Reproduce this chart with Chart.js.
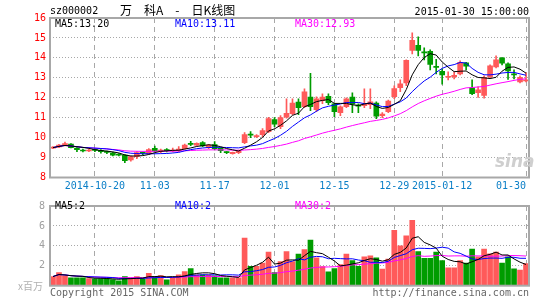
<!DOCTYPE html>
<html>
<head>
<meta charset="utf-8">
<script src="https://cdn.jsdelivr.net/npm/chart.js@4.4.0/dist/chart.umd.min.js"></script>
<style>
  body { margin: 0; width: 545px; height: 300px; background: #fff; position: relative; overflow: hidden; }
  canvas { position: absolute; left: 0; }
  #kChart { top: 0; }
  #volChart { top: 195px; }
  .txt { position: absolute; font: 10px "DejaVu Sans Mono", monospace; line-height: 12px; white-space: pre; }
</style>
</head>
<body>
<canvas id="kChart" width="545" height="195"></canvas>
<canvas id="volChart" width="545" height="105"></canvas>

<div class="txt" style="left:50px;top:5px;">sz000002</div>
<div class="txt" style="left:120px;top:3px;font:12px 'Noto Sans CJK SC';line-height:14px;">万　科A　-　日K线图</div>
<div class="txt" style="right:16px;top:6px;">2015-01-30 15:00:00</div>

<div class="txt" style="left:55px;top:18px;color:#000;">MA5:13.20</div>
<div class="txt" style="left:175px;top:18px;color:#0000ff;">MA10:13.11</div>
<div class="txt" style="left:295px;top:18px;color:#ff00ff;">MA30:12.93</div>

<div class="txt" style="left:495px;top:151px;font:italic bold 17px 'DejaVu Sans';color:#cfcfcf;">sina</div>

<div class="txt" style="left:55px;top:200px;color:#000;">MA5:2</div>
<div class="txt" style="left:175px;top:200px;color:#0000ff;">MA10:2</div>
<div class="txt" style="left:295px;top:200px;color:#ff00ff;">MA30:2</div>

<div class="txt" style="left:18px;top:280px;color:#b0b0b0;font:10px 'Noto Sans CJK SC';line-height:12px;">x百万</div>
<div class="txt" style="left:50px;top:287px;color:#666;">Copyright 2015 SINA.COM</div>
<div class="txt" style="right:16px;top:287px;color:#666;">http://finance.sina.com.cn</div>

<script>
const dates = [
  '2014-10-09','2014-10-10','2014-10-13','2014-10-14','2014-10-15','2014-10-16','2014-10-17',
  '2014-10-20','2014-10-21','2014-10-22','2014-10-23','2014-10-24','2014-10-27','2014-10-28',
  '2014-10-29','2014-10-30','2014-10-31',
  '2014-11-03','2014-11-04','2014-11-05','2014-11-06','2014-11-07','2014-11-10','2014-11-11',
  '2014-11-12','2014-11-13','2014-11-14','2014-11-17','2014-11-18','2014-11-19','2014-11-20',
  '2014-11-21','2014-11-24','2014-11-25','2014-11-26','2014-11-27','2014-11-28',
  '2014-12-01','2014-12-02','2014-12-03','2014-12-04','2014-12-05','2014-12-08','2014-12-09',
  '2014-12-10','2014-12-11','2014-12-12','2014-12-15','2014-12-16','2014-12-17','2014-12-18',
  '2014-12-19','2014-12-22','2014-12-23','2014-12-24','2014-12-25','2014-12-26','2014-12-29',
  '2014-12-30','2014-12-31',
  '2015-01-05','2015-01-06','2015-01-07','2015-01-08','2015-01-09','2015-01-12','2015-01-13',
  '2015-01-14','2015-01-15','2015-01-16','2015-01-19','2015-01-20','2015-01-21','2015-01-22',
  '2015-01-23','2015-01-26','2015-01-27','2015-01-28','2015-01-29','2015-01-30'
];

let open = [
  9.47, 9.53, 9.64, 9.68, 9.47, 9.38, 9.33, 9.40, 9.36, 9.30,
  9.24, 9.16, 9.12, 8.88, 9.05, 9.25, 9.20, 9.46, 9.30, 9.40,
  9.33, 9.35, 9.45, 9.70, 9.62, 9.75, 9.50, 9.65, 9.47, 9.28,
  9.20, 9.25, 9.75, 10.18, 10.05, 10.15, 10.30, 10.90, 10.55, 11.02,
  11.20, 11.78, 11.55, 12.03, 11.40, 11.85, 12.07, 11.70, 11.25, 11.55,
  12.03, 11.62, 11.60, 11.65, 11.73, 11.10, 11.30, 12.05, 12.50, 12.75,
  14.38, 14.63, 14.28, 14.33, 13.58, 13.33, 13.03, 13.05, 13.20, 13.75,
  12.50, 12.25, 12.12, 13.05, 13.55, 14.00, 13.70, 13.20, 12.80, 12.85
];
let high = [
  9.55, 9.66, 9.78, 9.70, 9.50, 9.42, 9.42, 9.45, 9.40, 9.33,
  9.27, 9.20, 9.15, 9.08, 9.30, 9.28, 9.45, 9.58, 9.42, 9.45,
  9.48, 9.55, 9.68, 9.82, 9.74, 9.80, 9.66, 9.80, 9.50, 9.30,
  9.28, 9.38, 10.25, 10.30, 10.15, 10.45, 11.02, 11.00, 11.10, 11.95,
  11.95, 11.95, 12.45, 13.23, 12.05, 12.20, 12.20, 11.72, 11.60, 12.00,
  12.25, 11.70, 12.45, 12.45, 11.80, 11.25, 11.88, 12.60, 12.90, 13.90,
  15.26, 15.05, 14.50, 14.40, 13.93, 13.45, 13.30, 13.30, 13.85, 13.78,
  12.90, 12.55, 13.10, 13.65, 14.10, 14.02, 13.75, 13.40, 13.10, 13.25
];
let low = [
  9.44, 9.50, 9.58, 9.48, 9.30, 9.28, 9.30, 9.30, 9.22, 9.20,
  9.08, 9.08, 8.75, 8.82, 8.95, 9.15, 9.18, 9.28, 9.25, 9.28,
  9.28, 9.30, 9.42, 9.60, 9.58, 9.55, 9.45, 9.38, 9.25, 9.20,
  9.17, 9.20, 9.70, 10.00, 10.00, 10.05, 10.25, 10.55, 10.45, 10.98,
  11.15, 11.15, 11.50, 11.35, 11.30, 11.70, 11.65, 11.05, 11.10, 11.50,
  11.25, 11.25, 11.50, 11.45, 10.95, 11.00, 11.25, 11.95, 12.30, 12.60,
  14.20, 14.10, 13.90, 13.40, 13.20, 12.68, 12.90, 12.95, 13.15, 13.40,
  12.15, 12.02, 11.98, 13.00, 13.50, 13.65, 12.92, 12.95, 12.75, 12.80
];
let close = [
  9.50, 9.62, 9.70, 9.50, 9.40, 9.33, 9.38, 9.36, 9.30, 9.26,
  9.12, 9.12, 8.85, 9.05, 9.25, 9.22, 9.40, 9.32, 9.38, 9.35,
  9.36, 9.42, 9.62, 9.66, 9.72, 9.58, 9.63, 9.45, 9.35, 9.25,
  9.26, 9.33, 10.15, 10.12, 10.10, 10.35, 10.95, 10.68, 11.00, 11.22,
  11.73, 11.50, 12.30, 11.55, 11.95, 12.03, 11.75, 11.30, 11.55, 11.95,
  11.68, 11.58, 11.68, 11.80, 11.08, 11.18, 11.83, 12.46, 12.70, 13.88,
  14.88, 14.38, 14.25, 13.67, 13.52, 13.15, 13.08, 13.12, 13.78, 13.58,
  12.20, 12.40, 13.03, 13.60, 13.90, 13.73, 13.35, 13.15, 13.03, 12.90
];
// volume, x 百万
let volume = [
  0.92, 1.32, 1.00, 0.79, 0.79, 0.79, 0.72, 0.70, 0.70, 0.70,
  0.62, 0.50, 0.92, 0.79, 0.92, 0.70, 1.23, 0.92, 1.01, 0.60,
  0.79, 1.10, 1.42, 1.73, 1.10, 1.10, 1.10, 1.00, 0.79, 0.79,
  0.79, 0.79, 4.78, 1.95, 1.95, 2.27, 3.37, 1.32, 2.42, 3.43,
  2.42, 3.18, 3.62, 4.57, 2.80, 1.92, 1.39, 1.73, 2.11, 3.18,
  2.52, 1.95, 2.90, 2.99, 2.80, 1.67, 2.68, 5.57, 4.00, 5.00,
  6.57, 3.43, 2.74, 2.74, 3.37, 2.52, 1.79, 1.79, 2.52, 2.26,
  3.68, 2.90, 3.68, 3.21, 3.37, 2.26, 2.90, 1.70, 1.58, 2.21
];

const tickDates = ['2014-10-20','2014-11-03','2014-11-17','2014-12-01','2014-12-15','2014-12-29','2015-01-12','2015-01-30'];
const tickText  = ['2014-10-20','11-03','11-17','12-01','12-15','12-29','2015-01-12','01-30'];
const priceTicks = [8, 9, 10, 11, 12, 13, 14, 15, 16];
const volTicks = [0, 2, 4, 6, 8];

const UP = '#ff5a5a';
const DOWN = '#009c00';
const GRID = '#a8a8a8';
const MONO = { family: 'DejaVu Sans Mono', size: 10 };

function ma(arr, n) {
  return arr.map((v, i) => {
    let s = arr.slice(Math.max(0, i - n + 1), i + 1);
    return s.reduce((a, b) => a + b, 0) / s.length;
  });
}

let colors = close.map((c, i) => c >= open[i] ? UP : DOWN);
let isTick = i => tickDates.includes(dates[i]);

// gray box round the plot
const frame = {
  id: 'frame',
  afterDraw(chart) {
    let a = chart.chartArea, ctx = chart.ctx;
    ctx.save();
    ctx.strokeStyle = GRID;
    ctx.lineWidth = 2;
    ctx.strokeRect(a.left, a.top, a.right - a.left, a.bottom - a.top);
    ctx.restore();
  }
};

function xScale(showLabels, h) {
  return {
    offset: true,
    grid: { offset: false, drawTicks: false, color: c => isTick(c.index) ? GRID : 'transparent' },
    border: { display: false, dash: [5, 4] },
    ticks: {
      display: showLabels, autoSkip: false, maxRotation: 0, padding: 3, align: 'inner',
      color: '#0b7fc7', font: MONO,
      callback: (v, i) => isTick(i) ? tickText[tickDates.indexOf(dates[i])] : ''
    },
    afterFit: s => { s.height = h; }
  };
}

function lineSet(data, color) {
  return { type: 'line', data: data, borderColor: color, borderWidth: 1, pointRadius: 0, tension: 0, order: 0 };
}

new Chart(document.getElementById('kChart'), {
  type: 'bar',
  data: {
    labels: dates,
    datasets: [
      lineSet(ma(close, 5), '#000000'),
      lineSet(ma(close, 10), '#0000ff'),
      lineSet(ma(close, 30), '#ff00ff'),
      { data: dates.map((d, i) => [open[i], close[i]]), backgroundColor: colors, barThickness: 5, minBarLength: 1, grouped: false, order: 1 },
      { data: dates.map((d, i) => [low[i], high[i]]), backgroundColor: colors, barThickness: 1, grouped: false, order: 2 }
    ]
  },
  options: {
    responsive: false,
    animation: false,
    events: [],
    layout: { padding: { left: 0, right: 16, top: 18, bottom: 0 } },
    plugins: { legend: { display: false }, tooltip: { enabled: false } },
    scales: {
      x: xScale(true, 17.5),
      y: {
        min: 8, max: 16,
        afterBuildTicks: s => { s.ticks = priceTicks.map(v => ({ value: v })); },
        grid: { drawTicks: false, color: c => (c.tick.value > 8 && c.tick.value < 16) ? GRID : 'transparent' },
        border: { display: false, dash: [1, 2] },
        ticks: { color: '#ff0000', font: MONO, padding: 4 },
        afterFit: s => { s.width = 50; }
      }
    }
  },
  plugins: [frame]
});

new Chart(document.getElementById('volChart'), {
  type: 'bar',
  data: {
    labels: dates,
    datasets: [
      lineSet(ma(volume, 5), '#000000'),
      lineSet(ma(volume, 10), '#0000ff'),
      lineSet(ma(volume, 30), '#ff00ff'),
      { data: volume, backgroundColor: colors, barThickness: 5, order: 1 }
    ]
  },
  options: {
    responsive: false,
    animation: false,
    events: [],
    layout: { padding: { left: 0, right: 16, top: 6.7, bottom: 0 } },
    plugins: { legend: { display: false }, tooltip: { enabled: false } },
    scales: {
      x: xScale(false, 14.3),
      y: {
        min: 0, max: 8,
        afterBuildTicks: s => { s.ticks = volTicks.map(v => ({ value: v })); },
        grid: { drawTicks: false, color: c => (c.tick.value > 0 && c.tick.value < 8) ? GRID : 'transparent' },
        border: { display: false, dash: [1, 2] },
        ticks: { color: '#a0a0a0', font: MONO, padding: 5, callback: v => v === 0 ? '' : v },
        afterFit: s => { s.width = 50; }
      }
    }
  },
  plugins: [frame]
});
</script>
</body>
</html>
